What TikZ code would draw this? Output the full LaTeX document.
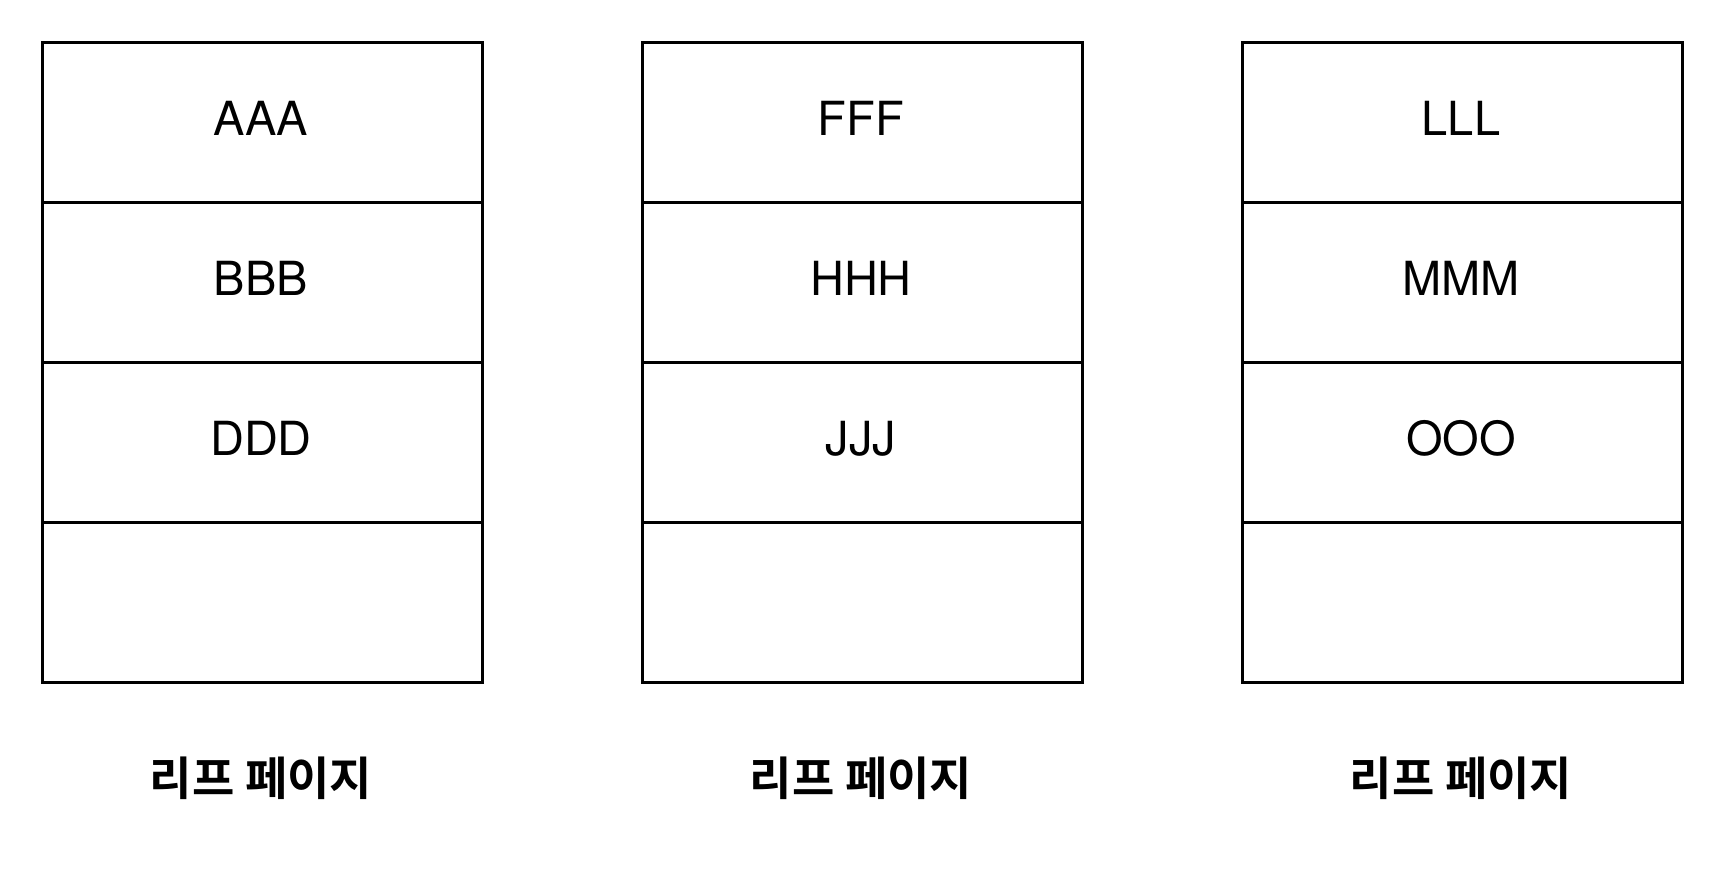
\documentclass[tikz,border=0pt]{standalone}
\usepackage{fontspec}
\setmainfont{TeX Gyre Heros}
\newfontfamily\krfont{Noto Sans CJK KR}[BoldFont={* Bold}]
\begin{document}
\begin{tikzpicture}[x=1pt,y=-1pt,
  cell/.style={draw=black,line width=3pt,minimum width=440pt,minimum height=160pt,inner sep=0pt,outer sep=0pt,anchor=north west},
  celltext/.style={anchor=base,inner sep=0pt,font=\fontsize{47}{47}\selectfont},
  lbl/.style={inner sep=0pt,font=\krfont\bfseries\fontsize{46}{46}\selectfont}]
\useasboundingbox (0,0) rectangle (1728,884);
\foreach \c/\x/\a/\b/\d in {1/42/AAA/BBB/DDD,2/642/FFF/HHH/JJJ,3/1242/LLL/MMM/OOO}{
  \node[cell] (c\c r1) at (\x,42) {};
  \node[cell] (c\c r2) at (\x,202) {};
  \node[cell] (c\c r3) at (\x,362) {};
  \node[cell] (c\c r4) at (\x,522) {};
  \node[celltext] (t\c a) at (\x+219,135) {\a};
  \node[celltext] (t\c b) at (\x+219,295) {\b};
  \node[celltext] (t\c d) at (\x+219,455) {\d};
  \node[lbl] (l\c) at (\x+219,778) {리프 페이지};
}
\end{tikzpicture}
\end{document}
